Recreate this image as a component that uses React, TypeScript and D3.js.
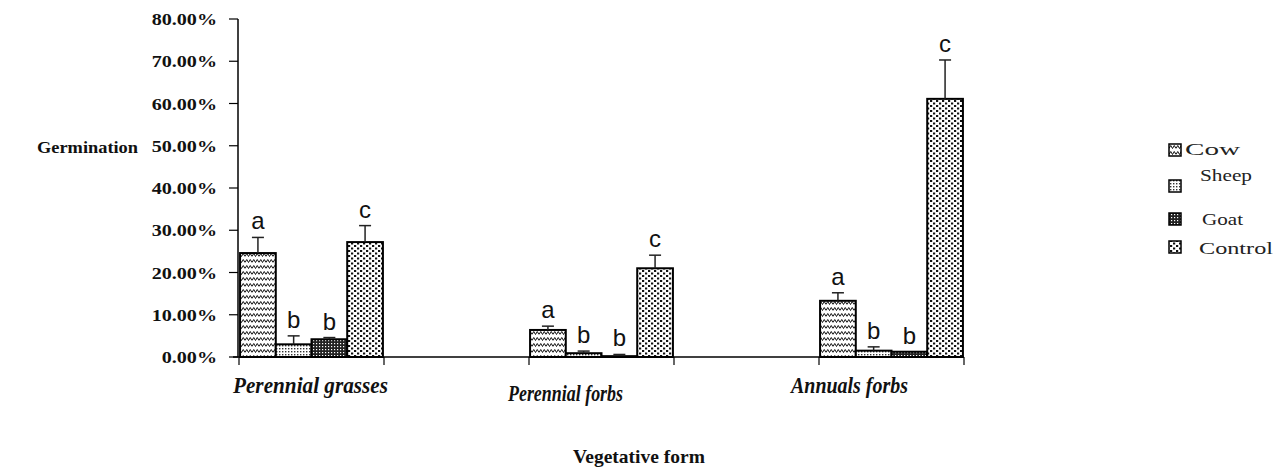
import React from "react";
import * as d3 from "d3";

const categories = ["Perennial grasses", "Perennial forbs", "Annuals forbs"];
const series = ["Cow", "Sheep", "Goat", "Control"];
const cowValues = [0.246, 0.064, 0.133];
const sheepValues = [0.03, 0.009, 0.015];
const goatValues = [0.042, 0.002, 0.0125];
const controlValues = [0.272, 0.21, 0.611];
const cowErrors = [0.037, 0.009, 0.019];
const sheepErrors = [0.02, 0.005, 0.009];
const goatErrors = [0.004, 0.004, 0.0];
const controlErrors = [0.039, 0.031, 0.092];
const seriesLetters = ["a", "b", "b", "c"];
const slotCount = 5;
const categorySlots = [0, 2, 4];
const yTicks = [0, 0.1, 0.2, 0.3, 0.4, 0.5, 0.6, 0.7, 0.8];

const valuesBySeries = [cowValues, sheepValues, goatValues, controlValues];
const errorsBySeries = [cowErrors, sheepErrors, goatErrors, controlErrors];
const patternIds = ["pCow", "pSheep", "pGoat", "pControl"];

const W = 1276;
const H = 471;
const x0 = 239;
const x1 = 964;
const yBase = 357;
const yTop = 19;

export default function App() {
  const y = d3.scaleLinear().domain([0, 0.8]).range([yBase, yTop]);
  const slot = d3
    .scaleBand<number>()
    .domain(d3.range(slotCount))
    .range([x0, x1])
    .padding(0);
  const inner = d3
    .scaleBand<string>()
    .domain(series)
    .range([0, slot.bandwidth()])
    .paddingInner(0)
    .paddingOuter(0.03);
  const fmt = d3.format(".2%");
  const serif = "'Liberation Serif', 'Times New Roman', serif";

  const catLabel = [
    { x: 233, y: 392.5, len: 155 },
    { x: 508, y: 400.5, len: 115 },
    { x: 791, y: 393.3, len: 117 },
  ];

  const legendItems = [
    { sy: 144, tx: 1185, ty: 154.5, len: 55 },
    { sy: 180, tx: 1200, ty: 181, len: 52 },
    { sy: 213, tx: 1202, ty: 225, len: 41 },
    { sy: 241, tx: 1199, ty: 253.5, len: 74 },
  ];

  return (
    <svg
      width={W}
      height={H}
      style={{ position: "absolute", left: 0, top: 0, background: "#fff" }}
    >
      <defs>
        <pattern id="pCow" patternUnits="userSpaceOnUse" width={7} height={6}>
          <rect width={7} height={6} fill="#fff" />
          <path
            d="M0,4.5 L1.75,1.5 L3.5,4.5 L5.25,1.5 L7,4.5"
            fill="none"
            stroke="#111"
            strokeWidth={1}
          />
        </pattern>
        <pattern id="pSheep" patternUnits="userSpaceOnUse" width={3} height={3}>
          <rect width={3} height={3} fill="#fff" />
          <rect x={0} y={0} width={1.4} height={1.4} fill="#333" />
        </pattern>
        <pattern id="pGoat" patternUnits="userSpaceOnUse" width={3} height={3}>
          <rect width={3} height={3} fill="#222" />
          <rect x={1} y={1} width={1.2} height={1.2} fill="#fff" />
        </pattern>
        <pattern id="pControl" patternUnits="userSpaceOnUse" width={6} height={5}>
          <rect width={6} height={5} fill="#fff" />
          <rect x={0} y={0} width={2.2} height={2} fill="#111" />
          <rect x={3} y={2.5} width={2.2} height={2} fill="#111" />
        </pattern>
      </defs>

      {/* Bars */}
      {categories.map((c, ci) => {
        const sx = slot(categorySlots[ci]) as number;
        return (
          <g key={c}>
            {series.map((s, si) => {
              const v = valuesBySeries[si][ci];
              const e = errorsBySeries[si][ci];
              const bx = sx + (inner(s) as number);
              const bw = inner.bandwidth();
              const cx = bx + bw / 2;
              const top = y(v + e);
              return (
                <g key={s}>
                  <rect
                    x={bx}
                    y={y(v)}
                    width={bw}
                    height={yBase - y(v)}
                    fill={`url(#${patternIds[si]})`}
                    stroke="#000"
                    strokeWidth={2}
                  />
                  {e > 0 && (
                    <g stroke="#222" strokeWidth={1.5}>
                      <line x1={cx} x2={cx} y1={y(v)} y2={top} />
                      <line x1={cx - 6} x2={cx + 6} y1={top} y2={top} />
                    </g>
                  )}
                  <text
                    x={cx}
                    y={top - 8}
                    textAnchor="middle"
                    fontFamily="'Liberation Sans', Arial, sans-serif"
                    fontSize={24}
                    fill="#111"
                  >
                    {seriesLetters[si]}
                  </text>
                </g>
              );
            })}
          </g>
        );
      })}

      {/* Y axis */}
      <line x1={x0 - 1} x2={x0 - 1} y1={yTop} y2={yBase} stroke="#000" strokeWidth={1.5} />
      {yTicks.map((t) => (
        <g key={t}>
          <line x1={229} x2={x0 - 1} y1={y(t)} y2={y(t)} stroke="#000" strokeWidth={1.2} />
          <g transform={`translate(217,${y(t) + 6}) scale(1.15,1)`}>
            <text
              textAnchor="end"
              fontFamily={serif}
              fontWeight="bold"
              fontSize={17.5}
              fill="#111"
            >
              {fmt(t)}
            </text>
          </g>
        </g>
      ))}

      {/* X axis */}
      <line x1={233} x2={x1} y1={yBase} y2={yBase} stroke="#000" strokeWidth={1.5} />
      {d3.range(slotCount + 1).map((i) => {
        const tx = i < slotCount ? (slot(i) as number) : x1;
        return (
          <line key={i} x1={tx} x2={tx} y1={yBase} y2={yBase + 8} stroke="#000" strokeWidth={1.2} />
        );
      })}

      {/* Category labels */}
      {categories.map((c, ci) => (
        <text
          key={c}
          x={catLabel[ci].x}
          y={catLabel[ci].y}
          fontFamily={serif}
          fontWeight="bold"
          fontStyle="italic"
          fontSize={23}
          textLength={catLabel[ci].len}
          lengthAdjust="spacingAndGlyphs"
          fill="#111"
        >
          {c}
        </text>
      ))}

      {/* Axis titles */}
      <text
        x={37}
        y={153}
        fontFamily={serif}
        fontWeight="bold"
        fontSize={17.5}
        textLength={101}
        lengthAdjust="spacingAndGlyphs"
        fill="#111"
      >
        Germination
      </text>
      <text
        x={573}
        y={463}
        fontFamily={serif}
        fontWeight="bold"
        fontSize={19.5}
        textLength={132}
        lengthAdjust="spacingAndGlyphs"
        fill="#111"
      >
        Vegetative form
      </text>

      {/* Legend */}
      {series.map((s, si) => (
        <g key={s}>
          <rect
            x={1169}
            y={legendItems[si].sy}
            width={12}
            height={12}
            fill={`url(#${patternIds[si]})`}
            stroke="#000"
            strokeWidth={1.5}
          />
          <text
            x={legendItems[si].tx}
            y={legendItems[si].ty}
            fontFamily={serif}
            fontSize={16}
            textLength={legendItems[si].len}
            lengthAdjust="spacingAndGlyphs"
            fill="#222"
          >
            {s}
          </text>
        </g>
      ))}
    </svg>
  );
}
